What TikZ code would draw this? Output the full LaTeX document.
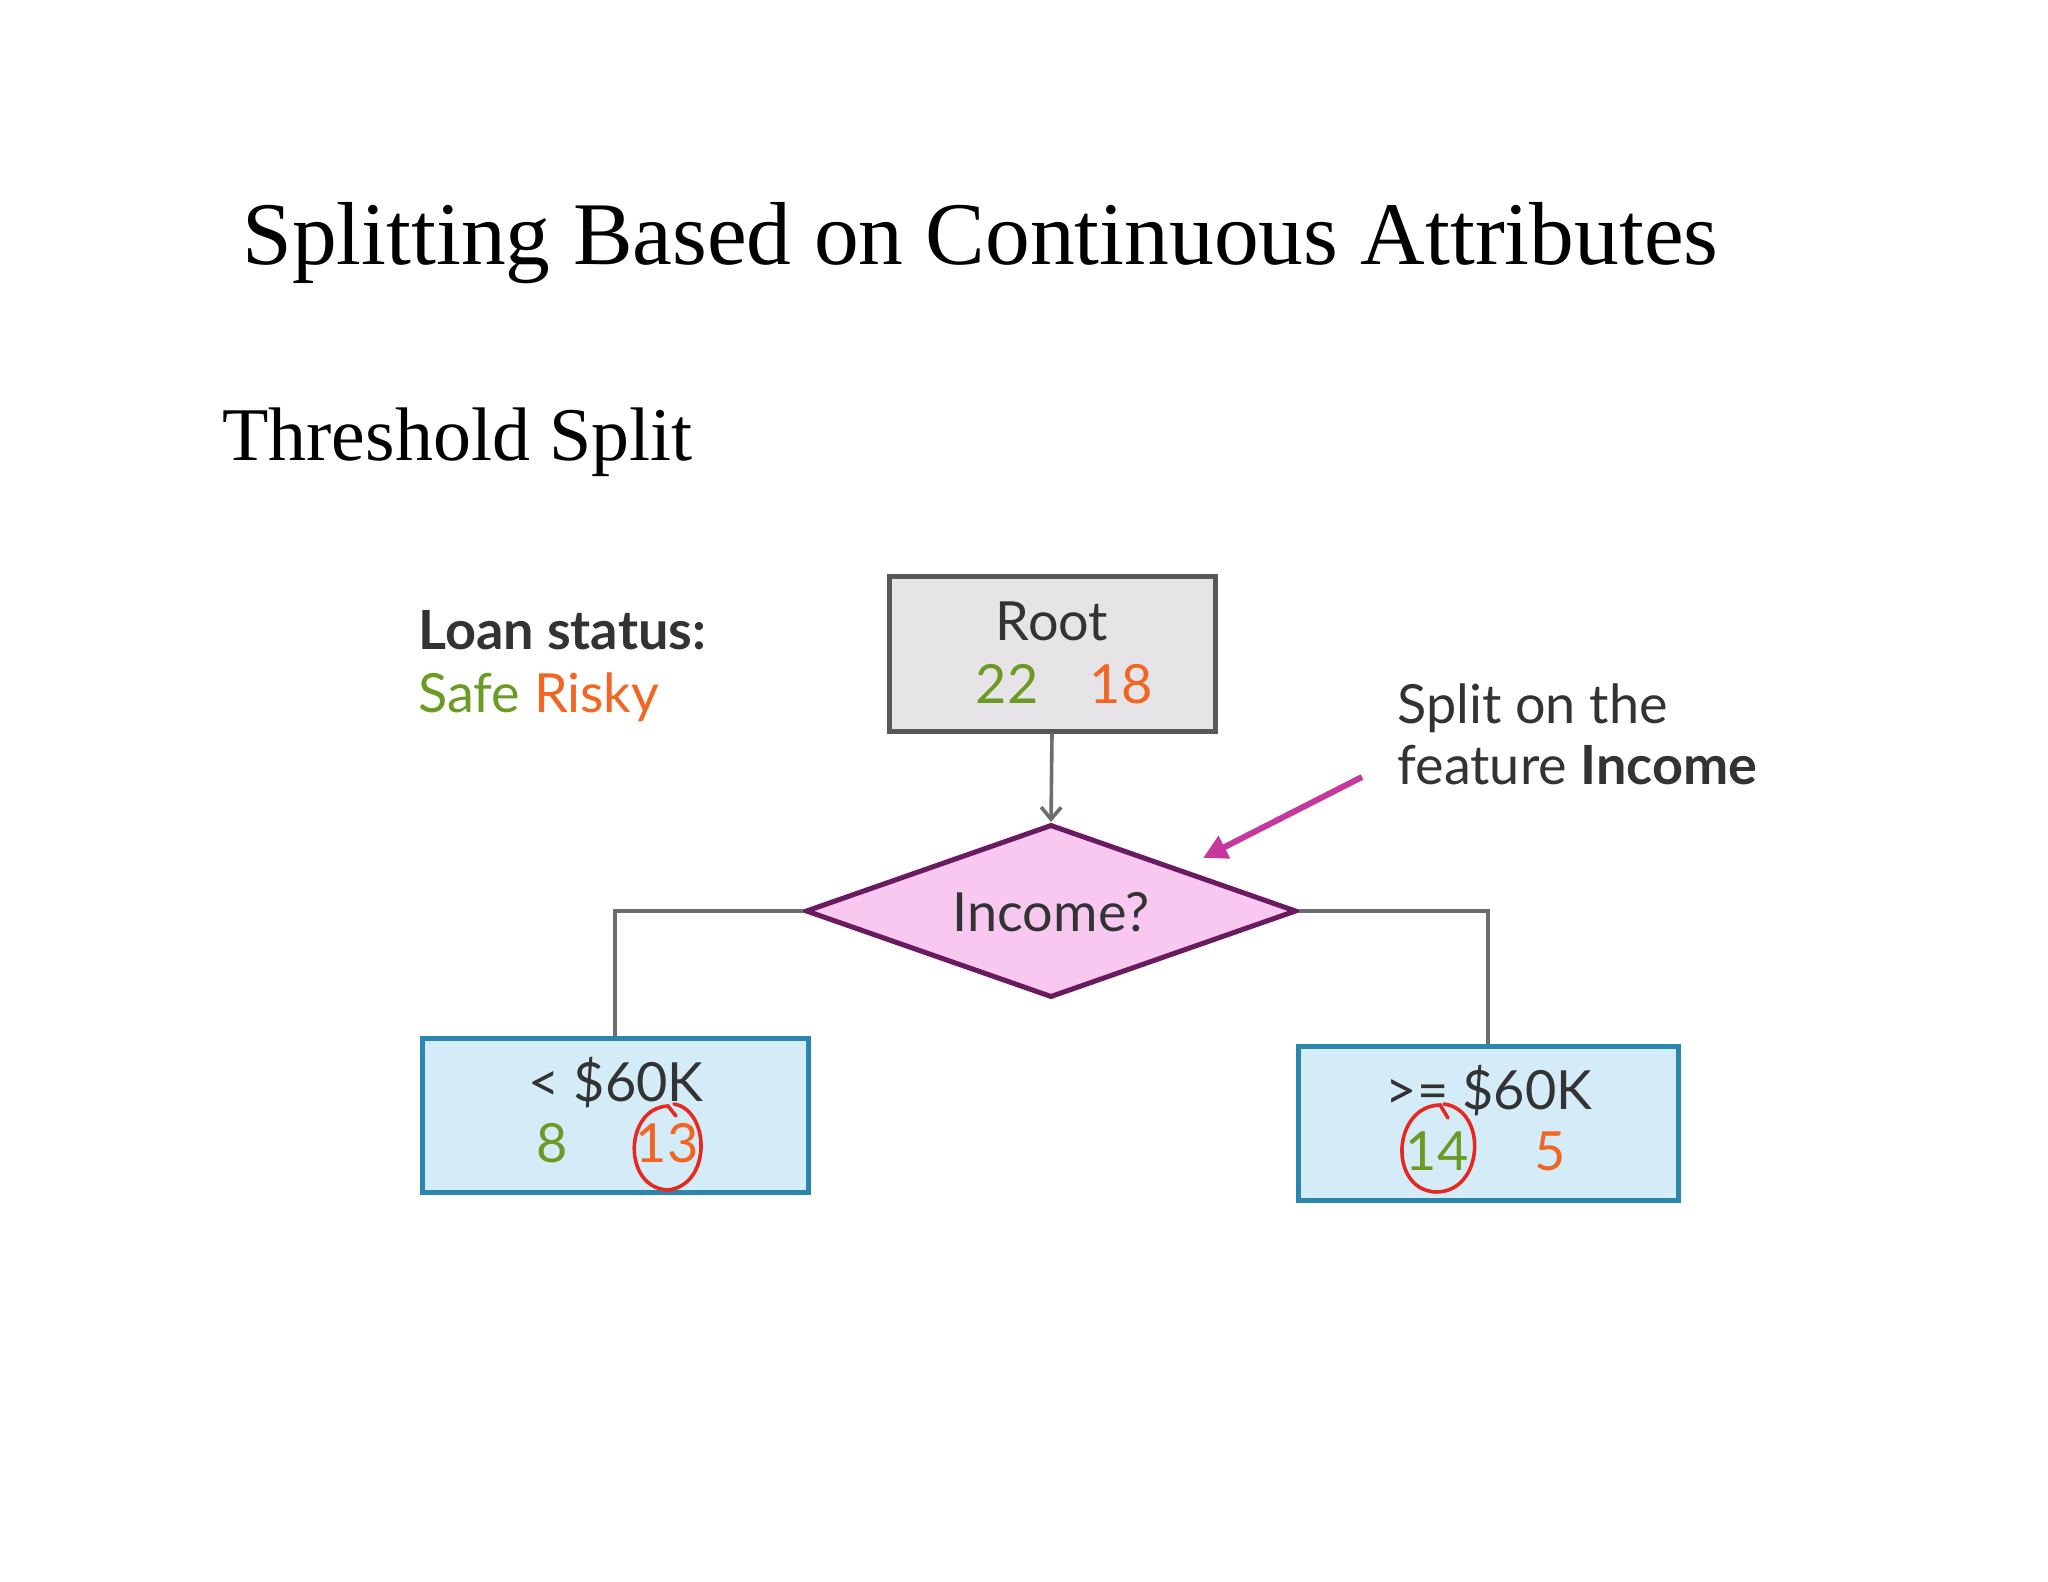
\documentclass[tikz,border=0pt]{standalone}
\usepackage{fontspec}
\setmainfont{Liberation Serif}
\newfontfamily\diagfont{Lato}
\usetikzlibrary{arrows.meta,shapes.geometric}
\definecolor{safegreen}{HTML}{6B9B24}
\definecolor{riskyorange}{HTML}{F26522}
\definecolor{darktext}{HTML}{333333}
\definecolor{rootfill}{HTML}{E6E4E6}
\definecolor{rootline}{HTML}{58585A}
\definecolor{diafill}{HTML}{F9C8F0}
\definecolor{dialine}{HTML}{6A1A5E}
\definecolor{leaffill}{HTML}{D3ECF8}
\definecolor{leafline}{HTML}{2A86AD}
\definecolor{connline}{HTML}{6D6D6D}
\definecolor{pointer}{HTML}{C5399E}
\definecolor{markred}{HTML}{E8281E}
\tikzset{
  heading/.style={anchor=base west, inner sep=0pt, text=black},
  dtext/.style={inner sep=0pt, font=\diagfont\fontsize{27pt}{30pt}\selectfont, text=darktext},
  rootbox/.style={draw=rootline, fill=rootfill, line width=2.5pt, minimum width=163pt, minimum height=77pt, inner sep=0pt},
  decision/.style={diamond, draw=dialine, fill=diafill, line width=2.5pt, minimum width=245.5pt, minimum height=86.5pt, inner sep=0pt},
  leafbox/.style={draw=leafline, fill=leaffill, line width=2.5pt, minimum height=77pt, inner sep=0pt},
  conn/.style={draw=connline, line width=1.8pt},
  pointerarrow/.style={draw=pointer, line width=3pt, -{Triangle[length=12pt,width=12pt]}},
  redmark/.style={draw=markred, line width=1.8pt, line cap=round}
}
\begin{document}
\begin{tikzpicture}[x=0.5pt,y=-0.5pt]
\useasboundingbox (0,0) rectangle (2048,1582);
% headings
\node[heading] (title) at (242,265) {\resizebox{738pt}{!}{Splitting Based on Continuous Attributes}};
\node[heading] (sub) at (222,461) {\resizebox{235pt}{!}{Threshold Split}};
% legend
\node[dtext, anchor=base west] (loan) at (418,649) {\bfseries Loan status:};
\node[dtext, anchor=base west] (legend) at (418,712) {\textcolor{safegreen}{Safe} \textcolor{riskyorange}{Risky}};
% root
\node[rootbox] (root) at (1052,654) {};
\node[dtext, anchor=base] (roottxt) at (1052,640) {Root};
\node[dtext, anchor=base, text=safegreen] (r22) at (1007,703) {22};
\node[dtext, anchor=base, text=riskyorange] (r18) at (1121,703) {18};
% decision
\node[decision] (dia) at (1051,911) {};
\node[dtext, anchor=base] (inc) at (1051,931) {Income?};
% leaves
\node[leafbox, minimum width=193pt] (lbox) at (615,1115) {};
\node[dtext, anchor=base] (ltxt) at (616,1101) {< \$60K};
\node[dtext, anchor=base, text=safegreen] (l8) at (552,1162) {8};
\node[dtext, anchor=base, text=riskyorange] (l13) at (667,1162) {13};
\node[leafbox, minimum width=190pt] (rbox) at (1488,1123) {};
\node[dtext, anchor=base] (rtxt) at (1489,1109) {>= \$60K};
\node[dtext, anchor=base, text=safegreen] (r14) at (1437,1170) {14};
\node[dtext, anchor=base, text=riskyorange] (r5) at (1550,1170) {5};
% connectors
\draw[conn, -{Straight Barb[length=6pt,width=10pt]}] (root.south) -- (dia.north);
\draw[conn] (dia.west) -| (lbox.north);
\draw[conn] (dia.east) -| (rbox.north);
% annotation
\node[dtext, anchor=base west] (ann1) at (1397,723) {Split on the};
\node[dtext, anchor=base west] (ann2) at (1397,784) {feature \textbf{Income}};
\coordinate (ps) at (1362,777);
\coordinate (pe) at (1203,858);
\draw[pointerarrow] (ps) -- (pe);
% red hand-drawn circles
\draw[redmark] (674,1104) .. controls (710,1110) and (712,1185) .. (668,1190)
  .. controls (622,1188) and (624,1108) .. (668,1106) -- (676,1116);
\draw[redmark] (1444,1104) .. controls (1488,1110) and (1484,1192) .. (1436,1192)
  .. controls (1388,1190) and (1392,1106) .. (1440,1105) -- (1448,1118);
\end{tikzpicture}
\end{document}
